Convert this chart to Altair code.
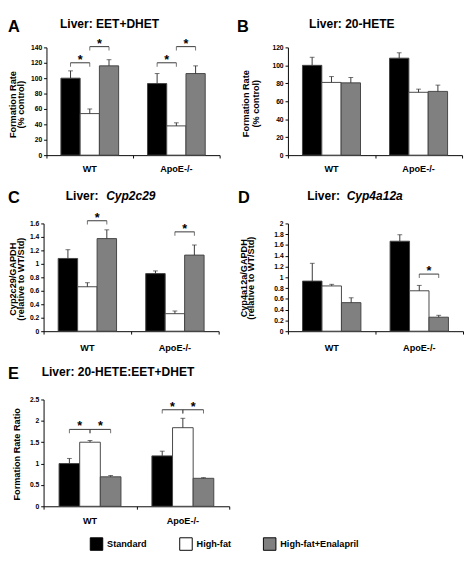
import altair as alt
import pandas as pd

FONT = "Liberation Sans"

groups = ["WT", "ApoE-/-"]
series = ["Standard", "High-fat", "High-fat+Enalapril"]
fills = ["#000000", "#ffffff", "#808080"]

# Panel A: Liver EET+DHET
a_wt = [100, 54, 116]
a_wt_err = [9.5, 6, 8]
a_apoe = [93, 38, 106]
a_apoe_err = [13, 4, 10]
a_ticks = [0, 20, 40, 60, 80, 100, 120, 140]
a_brackets = [(0, 0, 1, 120), (0, 1, 2, 141), (1, 0, 1, 120), (1, 1, 2, 141)]

# Panel B: Liver 20-HETE
b_wt = [100, 81, 80.5]
b_wt_err = [9, 6.5, 6]
b_apoe = [108, 70, 71]
b_apoe_err = [6, 3.5, 7]
b_ticks = [0, 20, 40, 60, 80, 100, 120]
b_brackets = []

# Panel C: Cyp2c29
c_wt = [1.08, 0.66, 1.375]
c_wt_err = [0.13, 0.06, 0.13]
c_apoe = [0.855, 0.26, 1.13]
c_apoe_err = [0.04, 0.04, 0.15]
c_ticks = [0, 0.2, 0.4, 0.6, 0.8, 1, 1.2, 1.4, 1.6]
c_brackets = [(0, 1, 2, 1.64), (1, 1, 2, 1.475)]

# Panel D: Cyp4a12a
d_wt = [0.93, 0.84, 0.53]
d_wt_err = [0.33, 0.03, 0.09]
d_apoe = [1.67, 0.75, 0.26]
d_apoe_err = [0.12, 0.1, 0.035]
d_ticks = [0, 0.2, 0.4, 0.6, 0.8, 1, 1.2, 1.4, 1.6, 1.8, 2]
d_brackets = [(1, 1, 2, 1.06)]

# Panel E: 20-HETE:EET+DHET ratio
e_wt = [1.0, 1.5, 0.69]
e_wt_err = [0.12, 0.04, 0.03]
e_apoe = [1.18, 1.84, 0.655]
e_apoe_err = [0.11, 0.22, 0.015]
e_ticks = [0, 0.5, 1, 1.5, 2, 2.5]
e_brackets = [(0, 0, 1, 1.80), (0, 1, 2, 1.80), (1, 0, 1, 2.26), (1, 1, 2, 2.26)]

BAR_X0 = "datum.g + 1/6 + datum.s * 2/9"
BAR_X1 = "datum.g + 1/6 + datum.s * 2/9 + 2/9"
BAR_XC = "datum.g + 1/6 + datum.s * 2/9 + 1/9"


def bar_frame(wt, wt_err, apoe, apoe_err):
    rows = []
    for gi, (m, e) in enumerate([(wt, wt_err), (apoe, apoe_err)]):
        for si, s in enumerate(series):
            rows.append({"group": groups[gi], "g": gi, "series": s, "s": si,
                         "mean": m[si], "err": e[si]})
    return pd.DataFrame(rows)


def text_layer(txt, x, y, size, angle=0, align="left", baseline="alphabetic",
               style="normal"):
    kw = dict(align=align, baseline=baseline, font=FONT, fontSize=size,
              fontWeight="bold", color="black", fontStyle=style)
    if angle:
        kw["angle"] = angle
    return alt.Chart(pd.DataFrame({"t": [txt]})).mark_text(**kw).encode(
        x=alt.value(x), y=alt.value(y), text="t:N")


def panel(letter, title, italic, data, ticks, ytitle, brackets, w, h, lay, legend=None):
    df = bar_frame(*data)
    left = lay.get("inset", 0)
    xscale = alt.Scale(domain=[0, 2], nice=False, zero=False, range=[left, w])
    yscale = alt.Scale(domain=[0, ticks[-1]], nice=False)
    xaxis = alt.Axis(values=[0, 1, 2], labels=False, title=None, ticks=True,
                     tickSize=3, grid=False)
    yaxis = alt.Axis(values=ticks, labelExpr="'' + datum.value", title=None, grid=False,
                     offset=-left)

    def X(f):
        return alt.X(f, type="quantitative", scale=xscale, axis=xaxis)

    def Y(f):
        return alt.Y(f, type="quantitative", scale=yscale, axis=yaxis)

    base = alt.Chart(df).transform_calculate(
        x0=BAR_X0, x1=BAR_X1, xc=BAR_XC, top="datum.mean + datum.err", zero="0")

    bars = base.mark_bar(stroke="#444444", strokeWidth=1).encode(
        x=X("x0"), x2="x1:Q", y=Y("mean"), y2="zero:Q",
        fill=alt.Fill("series:N", scale=alt.Scale(domain=series, range=fills),
                      sort=series, legend=legend))
    errs = base.mark_rule(color="#333333", strokeWidth=1).encode(
        x=X("xc"), y=Y("mean"), y2="top:Q")
    caps = base.mark_tick(orient="horizontal", size=5, thickness=1,
                          color="#333333").encode(x=X("xc"), y=Y("top"))

    glab = alt.Chart(pd.DataFrame({"group": groups, "g": [0, 1]})).transform_calculate(
        gc="datum.g + 0.5").mark_text(
        baseline="alphabetic", font=FONT, fontSize=9.5, fontWeight="bold",
        color="black").encode(x=X("gc"), y=alt.value(h + lay["gy"]), text="group:N")

    layers = [bars, errs, caps, glab,
              text_layer(letter, lay["lx"], lay["ly"], 17),
              text_layer(title, lay["hx"], lay["hy"], 12.5)]
    if italic:
        layers.append(text_layer(italic, lay["hx"] + lay["io"], lay["hy"], 12.5,
                                 style="italic"))
    for line, tx in zip(ytitle, lay["tx"]):
        layers.append(text_layer(line, tx, lay["ty"], 9.5, angle=270,
                                 align="center", baseline="middle"))

    if brackets:
        bdf = pd.DataFrame(brackets, columns=["g", "a", "b", "y"])
        bbase = alt.Chart(bdf).transform_calculate(
            xa="datum.g + 1/6 + datum.a * 2/9 + 1/9",
            xb="datum.g + 1/6 + datum.b * 2/9 + 1/9").transform_calculate(
            xm="(datum.xa + datum.xb) / 2")
        bline = bbase.mark_rule(color="#333333", strokeWidth=1).encode(
            x=X("xa"), x2="xb:Q", y=Y("y"))
        bticks = bbase.transform_fold(["xa", "xb"], as_=["end", "xe"]).mark_tick(
            orient="vertical", size=4, thickness=1, yOffset=2,
            color="#333333").encode(x=X("xe"), y=Y("y"))
        stars = bbase.mark_text(text="*", font=FONT, fontSize=13, fontWeight="bold",
                                baseline="alphabetic", dy=1, color="black").encode(
            x=X("xm"), y=Y("y"))
        layers += [bline, bticks, stars]

    return alt.layer(*layers).properties(width=w, height=h)


legend = alt.Legend(orient="none", legendX=48, legendY=143, direction="horizontal",
                    title=None, symbolType="square", symbolSize=169,
                    symbolStrokeColor="#000000", symbolStrokeWidth=1,
                    labelFont=FONT, labelFontSize=9.5, labelFontWeight="bold",
                    labelColor="black", columnPadding=31, labelOffset=4, padding=0)

pA = panel("A", "Liver: EET+DHET", None, (a_wt, a_wt_err, a_apoe, a_apoe_err), a_ticks,
           ["Formation Rate", "(% control)"], a_brackets, 183, 112,
           dict(inset=3, lx=-37, ly=-15.5, hx=17, hy=-20, tx=[-32, -23.5], ty=59.5, gy=18))
pB = panel("B", "Liver: 20-HETE", None, (b_wt, b_wt_err, b_apoe, b_apoe_err), b_ticks,
           ["Formation Rate", "(% control)"], b_brackets, 181, 112,
           dict(lx=-53, ly=-16, hx=22, hy=-20, tx=[-43, -33], ty=58.5, gy=18))
pC = panel("C", "Liver: ", "Cyp2c29", (c_wt, c_wt_err, c_apoe, c_apoe_err), c_ticks,
           ["Cyp2c29/GAPDH", "(relative to WT/Std)"], c_brackets, 182, 112,
           dict(lx=-37, ly=-21, hx=23, hy=-24, io=42, tx=[-32, -23], ty=58, gy=21))
pD = panel("D", "Liver: ", "Cyp4a12a", (d_wt, d_wt_err, d_apoe, d_apoe_err), d_ticks,
           ["Cyp4a12a/GAPDH", "(relative to WT/Std)"], d_brackets, 182, 112,
           dict(lx=-52, ly=-21, hx=20, hy=-24, io=41, tx=[-46, -38], ty=57, gy=21))
pE = panel("E", "Liver: 20-HETE:EET+DHET", None, (e_wt, e_wt_err, e_apoe, e_apoe_err),
           e_ticks, ["Formation Rate Ratio"], e_brackets, 193, 111,
           dict(lx=-37, ly=-21, hx=-2, hy=-24, tx=[-28], ty=57, gy=18), legend=legend)

chart = alt.concat(pA, pB, pC, pD, pE, columns=2, bounds="flush", align="none",
                   spacing={"row": 71, "column": 61}).resolve_scale(
    fill="independent").properties(
    padding={"left": 0, "top": 0, "right": 0, "bottom": 0}
).configure_view(stroke=None).configure_axis(
    labelFont=FONT, titleFont=FONT, labelFontSize=7, labelFontWeight="bold",
    titleFontSize=9.5, titleFontWeight="bold", labelColor="black",
    titleColor="black", domainColor="black", tickColor="black", grid=False,
    tickSize=3, labelPadding=2)

chart.save("out.html", embed_options={"renderer": "svg", "actions": False})
